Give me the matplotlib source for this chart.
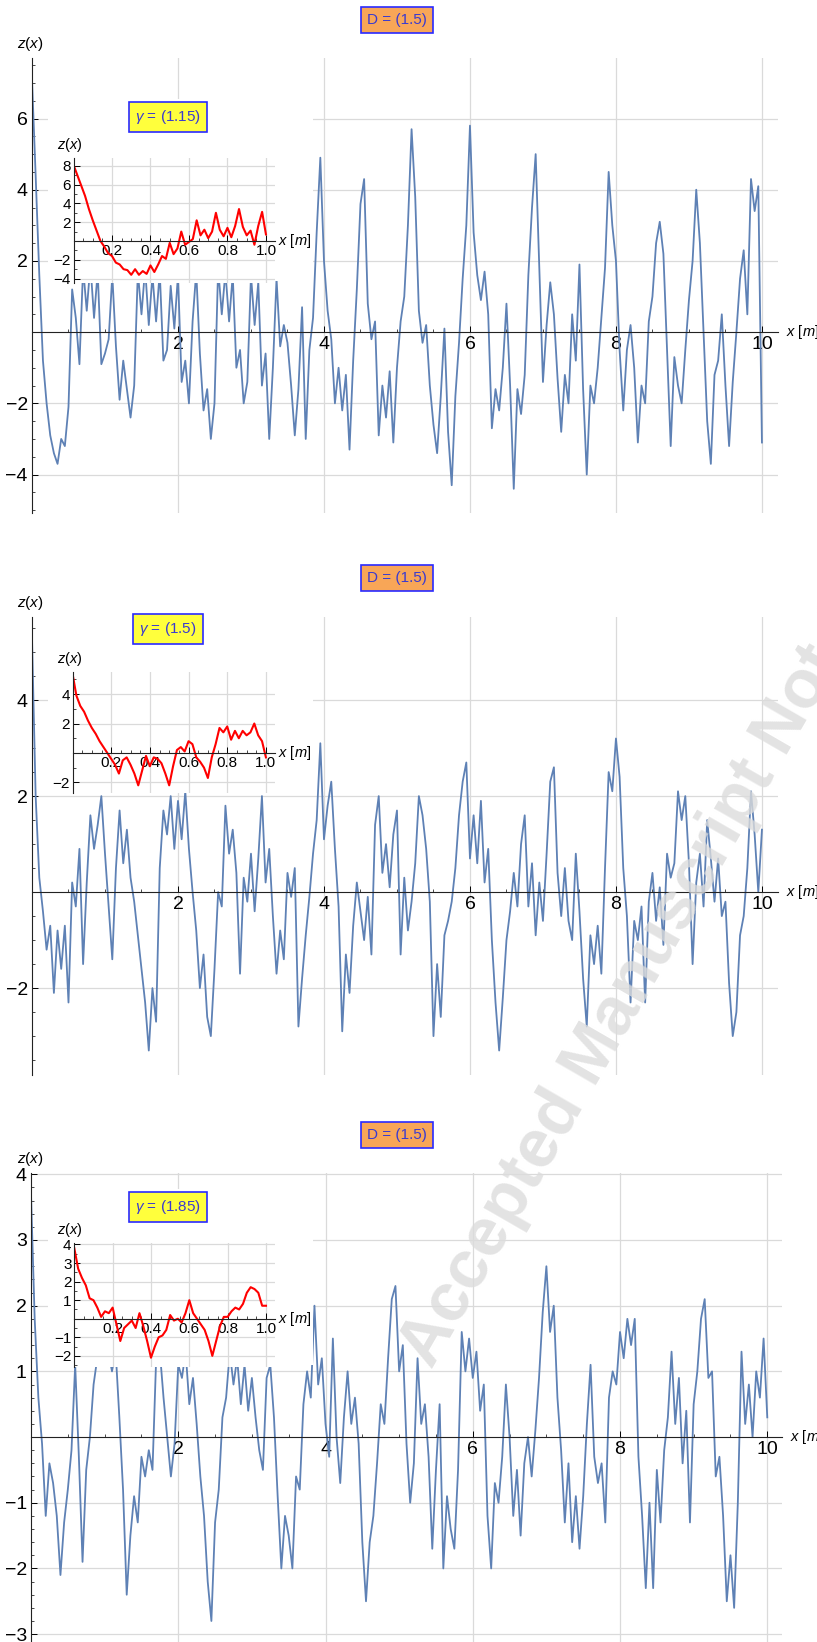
import numpy as np
import matplotlib
matplotlib.use("Agg")
import matplotlib.pyplot as plt
from matplotlib.ticker import MultipleLocator

plt.rcParams['font.family'] = ['Liberation Sans', 'DejaVu Sans']
plt.rcParams['mathtext.fontset'] = 'custom'
plt.rcParams['mathtext.rm'] = 'Liberation Sans'
plt.rcParams['mathtext.it'] = 'Liberation Sans:italic'

# ---- data ----
x_step = 0.05   # main curves sampled every 0.05 m
z_d15_g115 = [7.1, 4.4, 1.6, -0.8, -2.0, -2.9, -3.4, -3.7, -3.0, -3.2, -2.1, 1.2, 0.4, -0.9, 1.8, 0.6, 1.9, 0.4, 1.7, -0.9,
              -0.6, -0.2, 1.6, -0.4, -1.9, -0.8, -1.6, -2.4, -1.5, 1.7, 0.5, 1.8, 0.2, 1.6, 0.3, 1.7, -0.8, -0.5, 1.3, 0.1,
              1.6, -1.4, -0.8, -2.0, 0.3, 1.7, -0.6, -2.2, -1.6, -3.0, -2.0, 1.8, 0.5, 1.7, 0.3, 1.6, -1.0, -0.5, -2.0, -1.4,
              1.6, 0.2, 1.4, -1.5, -0.6, -3.0, -1.0, 1.5, -0.4, 0.2, -0.3, -1.5, -2.9, -1.6, 0.7, -3.0, -0.5, 0.4, 2.8, 4.9,
              2.0, 0.6, -0.2, -2.0, -1.0, -2.2, -1.2, -3.3, -0.8, 1.2, 3.6, 4.3, 0.8, -0.2, 0.3, -2.9, -1.5, -2.4, -1.1, -3.1,
              -1.0, 0.3, 1.0, 3.0, 5.7, 3.8, 0.6, -0.3, 0.2, -1.5, -2.6, -3.4, -1.8, 0.1, -2.8, -4.3, -1.8, -0.3, 1.5, 3.0,
              5.8, 2.8, 1.6, 0.9, 1.7, 0.5, -2.7, -1.6, -2.2, -1.0, 0.8, -1.5, -4.4, -1.6, -2.3, -1.2, 1.6, 3.5, 5.0, 1.8,
              -1.4, 0.2, 1.4, 0.5, -1.3, -2.8, -1.2, -2.0, 0.5, -0.8, 1.9, -1.6, -4.0, -1.5, -2.0, -1.0, 0.4, 1.8, 4.5, 3.0,
              2.0, -0.5, -2.2, -0.5, 0.2, -1.0, -3.1, -1.5, -2.0, 0.3, 1.0, 2.5, 3.1, 2.2, -0.5, -3.2, -0.7, -1.5, -2.0, -0.5,
              0.9, 2.0, 4.0, 2.5, 0.0, -2.5, -3.7, -1.2, -0.8, 0.5, -1.5, -3.2, -1.4, 0.0, 1.5, 2.3, 0.5, 4.3, 3.4, 4.1,
              -3.1]
z_d15_g15 = [5.3, 2.0, 0.3, -0.4, -1.2, -0.7, -2.1, -0.8, -1.6, -0.7, -2.3, 0.2, -0.3, 0.9, -1.5, 0.2, 1.6, 0.9, 1.4, 2.0,
             0.8, -0.3, -1.4, 0.5, 1.7, 0.6, 1.3, 0.3, -0.2, -0.9, -1.6, -2.3, -3.3, -2.0, -2.7, 0.5, 1.7, 1.2, 2.0, 0.9,
             1.9, 1.1, 2.1, 0.9, 0.0, -0.8, -2.0, -1.3, -2.6, -3.0, -1.6, 0.0, -0.3, 1.8, 0.8, 1.3, 0.4, -1.7, 0.3, -0.2,
             0.8, -0.4, 0.7, 2.0, 0.2, 0.9, -0.5, -1.7, -0.8, -1.4, 0.4, -0.1, 0.5, -2.8, -1.8, -0.9, -0.1, 0.8, 1.5, 3.1,
             1.1, 1.8, 2.3, 0.9, -0.3, -2.9, -1.3, -2.1, -0.7, 0.2, -0.4, -1.0, -0.1, -1.3, 1.4, 2.0, 0.4, 1.0, 0.1, 1.2,
             1.7, -1.3, 0.3, -0.8, -0.2, 0.6, 2.0, 1.6, 0.9, -0.2, -3.0, -1.5, -2.6, -0.9, -0.6, -0.2, 0.5, 1.6, 2.3, 2.7,
             0.7, 1.6, 0.6, 1.9, 0.2, 0.9, -1.0, -2.3, -3.3, -2.2, -1.0, -0.4, 0.4, -0.3, 1.0, 1.6, -0.3, 0.6, -0.9, 0.2,
             -0.6, 0.8, 2.3, 2.6, 0.4, -0.5, 0.5, -0.6, -1.0, 0.8, -0.4, -1.8, -2.8, -0.9, -1.5, -0.7, -1.7, 0.5, 2.5, 2.1,
             3.2, 2.4, 0.5, -0.5, -2.3, -0.6, -1.0, -0.3, -2.3, -0.2, 0.4, -0.6, 0.1, -1.1, 0.8, 0.3, 0.6, 2.1, 1.5, 2.0,
             0.6, -1.5, 0.2, 0.8, -0.3, 1.5, 0.7, -0.2, 0.7, -0.5, -0.2, -1.9, -3.0, -2.5, -0.9, -0.5, 0.5, 2.1, 1.2, 0.0,
             1.3]
z_d15_g185 = [3.7, 1.8, 0.6, -0.1, -1.2, -0.4, -0.7, -1.2, -2.1, -1.3, -0.8, -0.2, 1.1, -0.3, -1.9, -0.5, 0.0, 0.8, 1.2, 1.3,
              1.1, 1.3, 1.0, 1.3, 0.3, -0.8, -2.4, -1.5, -0.9, -1.3, -0.3, -0.6, -0.2, -0.5, 1.2, 1.3, 0.6, 0.0, -0.6, -0.1,
              1.1, 0.9, 1.3, 0.5, 0.9, 0.2, -0.6, -1.2, -2.2, -2.8, -1.3, -0.8, 0.3, 0.6, 1.3, 0.8, 1.2, 0.5, 1.1, 0.4,
              0.9, 0.3, -0.2, -0.5, 0.9, 1.1, 0.3, -0.9, -2.0, -1.2, -1.5, -2.0, -0.6, -0.8, 0.5, 1.0, 0.6, 2.0, 0.8, 1.2,
              0.2, -0.3, 1.5, 0.0, -0.7, 0.3, 1.0, 0.2, 0.6, -0.1, -1.6, -2.5, -1.6, -1.2, -0.4, 0.5, 0.2, 1.2, 2.1, 2.3,
              1.0, 1.4, -0.1, -1.0, -0.4, 1.2, 0.2, 0.5, -0.3, -1.7, -0.5, 0.5, -2.0, -0.9, -1.4, -1.7, -0.5, 1.6, 1.0, 1.5,
              0.9, 1.3, 0.4, 0.8, -1.2, -2.0, -0.7, -1.0, -0.3, 0.8, 0.0, -1.2, -0.5, -1.5, -0.4, 0.0, -0.6, 0.1, 0.9, 1.9,
              2.6, 1.6, 2.0, 0.6, -0.2, -1.3, -0.4, -1.6, -0.9, -1.7, -0.9, 0.2, 1.1, -0.3, -0.7, -0.4, -1.3, 0.6, 1.0, 0.8,
              1.6, 1.2, 1.8, 1.4, 1.8, -0.3, -1.2, -2.3, -1.0, -2.3, -0.5, -1.3, -0.2, 0.3, 1.3, 0.2, 0.9, -0.4, 0.4, -1.3,
              0.5, 1.0, 1.8, 2.1, 0.9, 1.0, -0.6, -0.3, -1.2, -2.5, -1.8, -2.6, -1.0, 1.3, 0.2, 0.8, 0.0, 1.0, 0.6, 1.5,
              0.3]

xi_step = 0.02  # inset curves sampled every 0.02 m
zi_115 = [8.1, 7.0, 5.9, 4.8, 3.4, 2.2, 1.1, 0.0, -0.6, -1.3, -1.6, -2.3, -2.5, -3.0, -3.1, -3.6, -3.0, -3.6, -3.2, -3.5,
          -2.6, -3.3, -2.5, -1.6, -1.9, -0.2, -1.4, -0.8, 1.0, -0.4, -0.1, 0.2, 2.2, 0.6, 1.2, 0.3, 1.0, 3.0, 1.2, 0.5,
          1.4, 0.4, 1.6, 3.4, 1.5, 0.6, 1.1, -0.4, 1.6, 3.1, 0.7]
zi_15 = [5.4, 3.9, 3.2, 2.8, 2.2, 1.7, 1.3, 0.8, 0.4, 0.0, -0.4, -0.8, -1.4, -0.5, -0.3, -0.8, -1.4, -2.2, -1.2, -0.2,
         -0.9, -0.3, -0.4, -0.7, -1.4, -2.2, -0.9, 0.2, 0.4, 0.1, 0.8, 0.6, -0.3, -0.6, -1.0, -1.7, -0.3, 0.6, 1.7, 1.4,
         1.8, 0.9, 1.5, 1.0, 1.5, 1.2, 1.4, 2.0, 1.2, 0.8, -0.3]
zi_185 = [3.8, 2.7, 2.2, 1.8, 1.1, 1.0, 0.6, 0.1, 0.4, 0.3, 0.6, -0.3, -1.2, -0.5, -0.3, -0.1, -0.5, 0.3, -0.4, -1.2,
          -2.1, -1.5, -1.0, -0.9, -0.6, 0.2, -0.1, 0.0, -0.2, 0.3, 1.0, 0.3, 0.0, -0.3, -0.6, -1.2, -2.0, -1.2, -0.4, 0.1,
          0.1, 0.4, 0.6, 0.5, 0.8, 1.4, 1.7, 1.6, 1.4, 0.7, 0.7]

gammas = ['1.15', '1.5', '1.85']
D_label = '1.5'

BLUE = '#5e81b5'
W, H = 817, 1642

fig = plt.figure(figsize=(W / 100, H / 100), dpi=100)


def px_axes(l, t, r, b):
    return fig.add_axes([l / W, 1 - b / H, (r - l) / W, (b - t) / H])


def style_axes(ax, xticks, yticks, xminor, yminor, size):
    for s in ['top', 'right']:
        ax.spines[s].set_visible(False)
    ax.spines['bottom'].set_position(('data', 0))
    ax.spines['left'].set_position(('data', 0))
    for s in ['bottom', 'left']:
        ax.spines[s].set_linewidth(0.8)
        ax.spines[s].set_color('#222222')
    ax.set_xticks(xticks)
    ax.set_yticks(yticks)
    ax.xaxis.set_minor_locator(MultipleLocator(xminor))
    ax.yaxis.set_minor_locator(MultipleLocator(yminor))
    ax.tick_params(which='major', direction='in', length=4, width=0.7, labelsize=size, pad=3)
    ax.tick_params(which='minor', direction='in', length=2, width=0.5)
    ax.grid(True, which='major', color='#dadada', lw=0.9)
    ax.set_axisbelow(True)


def panel(main_box, xmax, ylim, z, yticks, yminor,
          inset_box, iylim, zi, iyticks, iyminor, top_y, gamma):
    ax = px_axes(*main_box)
    x = np.arange(len(z)) * x_step
    ax.plot(x, z, color=BLUE, lw=1.3)
    ax.set_xlim(0, xmax)
    ax.set_ylim(*ylim)
    style_axes(ax, [2, 4, 6, 8, 10], yticks, 0.5, yminor, 14)

    l, t, r, b = main_box
    fig.text(30 / W, 1 - (t - 14) / H, r'$z(x)$', ha='center', va='center', fontsize=11)
    y0 = t + (b - t) * ylim[1] / (ylim[1] - ylim[0])
    fig.text((r + 8) / W, 1 - y0 / H, r'$x$ [$m$]', ha='left', va='center', fontsize=10.5)

    # white patch under the inset
    il, it, ir, ib = inset_box
    bg = px_axes(48, top_y - 18, 313, ib - 2)
    bg.set_xticks([])
    bg.set_yticks([])
    for s in bg.spines.values():
        s.set_visible(False)

    ins = px_axes(*inset_box)
    xi = np.arange(len(zi)) * xi_step
    ins.plot(xi, zi, color='red', lw=1.5)
    ins.set_xlim(0, 1.047)
    ins.set_ylim(*iylim)
    style_axes(ins, [0.2, 0.4, 0.6, 0.8, 1.0], iyticks, 0.05, iyminor, 11)
    ins.set_xticklabels(['0.2', '0.4', '0.6', '0.8', '1.0'])
    ins.tick_params(pad=2)
    fig.text(70 / W, 1 - (it - 13) / H, r'$z(x)$', ha='center', va='center', fontsize=10.5)
    iy0 = it + (ib - it) * iylim[1] / (iylim[1] - iylim[0])
    fig.text((ir + 3) / W, 1 - iy0 / H, r'$x$ [$m$]', ha='left', va='center', fontsize=10.5)

    fig.text(168 / W, 1 - top_y / H, r'$\gamma$ = (' + gamma + ')', ha='center', va='center',
             fontsize=11, color='#3a3ad0',
             bbox=dict(boxstyle='square,pad=0.4', fc='#ffff3c', ec='#2a2aff', lw=1.2))
    return ax


panel((32, 58, 778, 513), 10.22, (-5.08, 7.70), z_d15_g115, [-4, -2, 2, 4, 6], 0.5,
      (73.5, 158, 275, 283), (-4.47, 8.83), zi_115, [-4, -2, 2, 4, 6, 8], 1, 117, gammas[0])
panel((32, 617, 778, 1075), 10.22, (-3.81, 5.73), z_d15_g15, [-2, 2, 4], 0.5,
      (72.5, 672, 275, 793), (-2.72, 5.5), zi_15, [-2, 2, 4], 1, 629, gammas[1])
panel((31, 1173, 782, 1642), 10.2, (-3.12, 4.02), z_d15_g185, [-3, -2, -1, 1, 2, 3, 4], 0.2,
      (74.3, 1243, 275, 1367), (-2.6, 4.08), zi_185, [-2, -1, 1, 2, 3, 4], 0.5, 1207, gammas[2])

for yc in [20, 578, 1135]:
    fig.text(397 / W, 1 - yc / H, 'D = (' + D_label + ')', ha='center', va='center',
             fontsize=11, color='#3a3ad0',
             bbox=dict(boxstyle='square,pad=0.4', fc='#f8a657', ec='#2a2aff', lw=1.2))

# watermark
fig.text(432 / W, 1 - 1370 / H, 'Accepted Manuscript Not Copyedited', rotation=60,
         rotation_mode='anchor', ha='left', va='baseline', fontsize=49, fontweight='bold',
         color='#dcdcdc', alpha=0.8, zorder=20)

fig.savefig('out.png', dpi=100)
